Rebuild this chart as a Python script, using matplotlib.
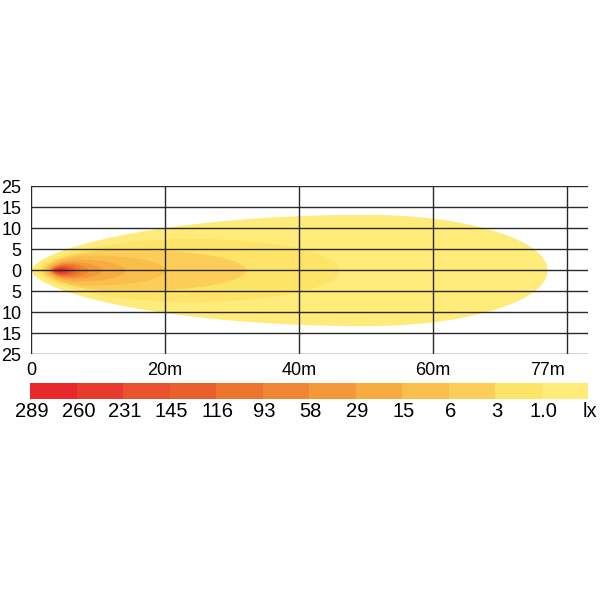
import numpy as np
import matplotlib
matplotlib.use("Agg")
import matplotlib.pyplot as plt

plt.rcParams['font.family'] = ['Liberation Sans', 'DejaVu Sans']

# illuminance levels (lx) and legend colours, brightest first
levels = ['289', '260', '231', '145', '116', '93', '58', '29', '15', '6', '3', '1.0']
colors = ['#e8282b', '#e63b2d', '#e8522c', '#ea602d', '#ee752f', '#f08533',
          '#f49839', '#f7ac42', '#fabe4b', '#fccd58', '#fde468', '#feeb7a']

# isolux zones, outer (1.0 lx) to inner (289 lx)
# start / end distance (m), position of max width (m), max half width (grid units)
zone_start = [0.0, 0.8, 1.5, 2.0, 2.4, 2.7, 2.9, 3.0, 3.1, 3.2, 3.4, 3.5]
zone_end = [77, 46, 32, 20, 14, 10.5, 8.5, 7.5, 6.6, 6.0, 5.6, 5.2]
zone_peak = [50, 24, 14, 9, 7, 6, 5.5, 5.1, 4.9, 4.7, 4.5, 4.4]
zone_width = [2.65, 1.5, 1.0, 0.72, 0.52, 0.4, 0.32, 0.27, 0.22, 0.18, 0.13, 0.08]

y_labels = ['25', '15', '10', '5', '0', '5', '10', '15', '25']
x_ticks = [0, 20, 40, 60, 77]
x_labels = ['0', '20m', '40m', '60m', '77m']
x_lines = [0, 20, 40, 60, 80]


def half_width(x, xs, xe, xm, w):
    h = np.zeros_like(x)
    left = x < xm
    s = (x[left] - xs) / (xm - xs)
    h[left] = w * np.clip(1 - (1 - s) ** 2, 0, 1) ** 0.6
    r = (x[~left] - xm) / (xe - xm)
    h[~left] = w * np.sqrt(np.clip(1 - r ** 2, 0, 1))
    return h


fig = plt.figure(figsize=(6, 6), dpi=100)
ax = fig.add_axes([31 / 600, 246 / 600, 557 / 600, 168 / 600])

for i in range(len(zone_start)):
    x = np.linspace(zone_start[i], zone_end[i], 400)
    h = half_width(x, zone_start[i], zone_end[i], zone_peak[i], zone_width[i])
    ax.fill_between(x, -h, h, color=colors[len(colors) - 1 - i], lw=0, zorder=1)

for yy in range(-4, 5):
    ax.axhline(yy, color='#2a2a2a', lw=1, zorder=3)
for xx in x_lines:
    ax.axvline(xx, color='#2a2a2a', lw=1, zorder=3)

ax.set_xlim(0, 83.1)
ax.set_ylim(-4, 4)
for sp in ax.spines.values():
    sp.set_visible(False)
ax.set_yticks(range(4, -5, -1))
ax.set_yticklabels(y_labels, fontsize=13)
ax.set_xticks(x_ticks)
ax.set_xticklabels(x_labels, fontsize=13)
ax.tick_params(axis='y', length=0, pad=7)
ax.tick_params(axis='x', length=0, pad=6)

# colour legend
lax = fig.add_axes([30 / 600, 201 / 600, 558 / 600, 16 / 600])
lax.bar(np.arange(len(colors)), 1, width=1, align='edge', color=colors, lw=0)
lax.set_xlim(0, len(colors))
lax.set_ylim(0, 1)
lax.axis('off')
for i, t in enumerate(levels + ['lx']):
    lax.text(i + 0.04, -0.8, t, ha='center', va='center', fontsize=14.5)

fig.savefig('out.png', dpi=100)
